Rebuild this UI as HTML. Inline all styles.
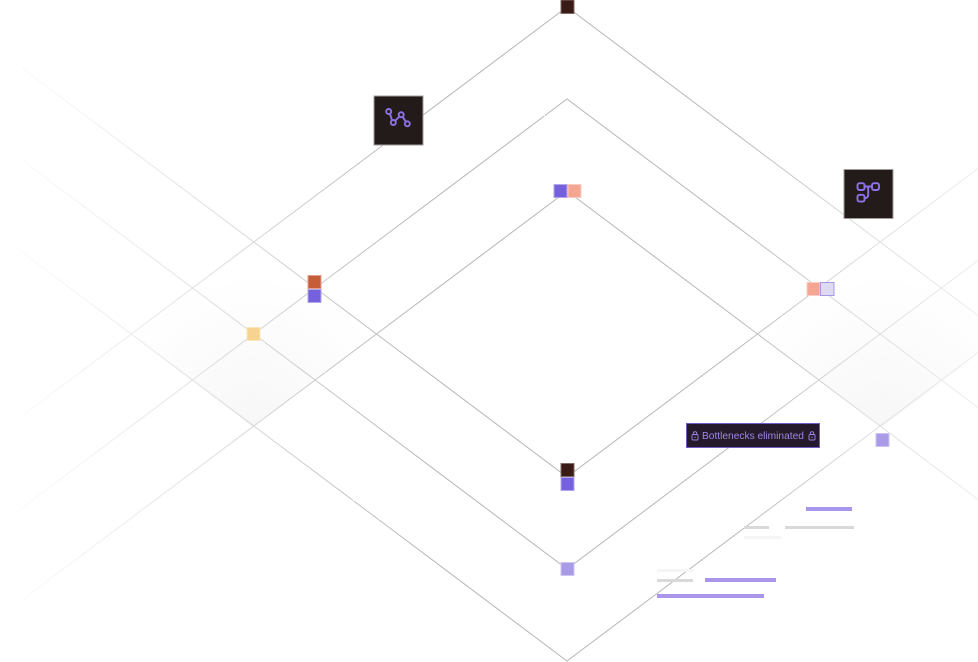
<!DOCTYPE html>
<html>
<head>
<meta charset="utf-8">
<style>
html,body{margin:0;padding:0;background:#fff;}
#c{position:relative;width:978px;height:662px;overflow:hidden;background:#fff;font-family:"Liberation Sans",sans-serif;}
#c svg{position:absolute;left:0;top:0;}
.b{position:absolute;}
#t{position:absolute;left:686px;top:423px;width:134px;height:25px;box-sizing:border-box;background:#241a2c;border:1px solid #6f5cc4;color:#9c86e8;font-size:10.2px;line-height:25px;white-space:nowrap;}
#t span{position:absolute;left:15px;top:0;}
#t svg{position:absolute;top:7px;}
</style>
</head>
<body>
<div id="c">
<svg width="978" height="662" viewBox="0 0 978 662">
<defs>
<linearGradient id="g" gradientUnits="userSpaceOnUse" x1="0" y1="0" x2="978" y2="0">
<stop offset="0" stop-color="#fff"/>
<stop offset=".025" stop-color="#fafafa"/>
<stop offset=".2" stop-color="#e2e2e2"/>
<stop offset=".34" stop-color="#c6c6c6"/>
<stop offset=".45" stop-color="#b4b4b4"/>
<stop offset=".75" stop-color="#b8b8b8"/>
<stop offset=".88" stop-color="#dcdcdc"/>
<stop offset="1" stop-color="#eeeeee"/>
</linearGradient>
<radialGradient id="s1" gradientUnits="userSpaceOnUse" cx="253" cy="425" r="150">
<stop offset="0" stop-color="#f7f7f7"/>
<stop offset=".5" stop-color="#fbfbfb"/>
<stop offset="1" stop-color="#fff"/>
</radialGradient>
<radialGradient id="s2" gradientUnits="userSpaceOnUse" cx="882" cy="425" r="150">
<stop offset="0" stop-color="#f7f7f7"/>
<stop offset=".5" stop-color="#fbfbfb"/>
<stop offset="1" stop-color="#fff"/>
</radialGradient>
</defs>
<polygon points="253,243 376,335 253,427 130,335" fill="url(#s1)"/>
<polygon points="882,243 1005,335 882,427 759,335" fill="url(#s2)"/>
<g fill="none" stroke="url(#g)" stroke-width="1">
<path d="M10 425 L567 7 L1000 332"/>
<path d="M10 517 L567 99 L1000 424"/>
<path d="M10 609 L567 191 L1000 516"/>
<path d="M10 59 L567 477 L1000 152"/>
<path d="M10 151 L567 569 L1000 244"/>
<path d="M10 243 L567 661 L1000 336"/>
</g>
<g fill="#fff">
<rect x="539" y="116" width="2" height="2"/>
<rect x="544" y="114" width="1" height="2"/>
<rect x="353" y="499" width="2" height="2"/>
<rect x="379" y="518" width="2" height="2"/>
</g>

<rect x="374" y="96" width="49" height="49" fill="#231b1a" stroke="#a09c9b" stroke-width="1"/>
<rect x="844" y="169.5" width="49" height="49" fill="#231b1a" stroke="#a09c9b" stroke-width="1"/>
<g fill="none" stroke="#8b72e6" stroke-width="1.9">
<circle cx="388.7" cy="111.5" r="2.5"/>
<circle cx="393.3" cy="122.5" r="2.5"/>
<circle cx="401.2" cy="114.7" r="2.5"/>
<circle cx="407.3" cy="123.8" r="2.5"/>
<path d="M390 113.8 L392 120.2 M395.2 120.8 L399.4 116.5 M402.6 116.8 L405.9 121.7"/>
<rect x="857.5" y="183.2" width="7" height="6.8" rx="2"/>
<rect x="872" y="183.2" width="7" height="6.8" rx="2"/>
<rect x="857.5" y="194.8" width="7" height="6.8" rx="2"/>
<path d="M864.5 186.5 H872 M868.2 186.5 V194.5 Q868.2 198.2 864.5 198.2"/>
</g>

<g stroke-width="1">
<rect x="561" y="0" width="13" height="13.5" fill="#3a1a14" stroke="#7d6a64"/>
<rect x="554" y="184.5" width="13" height="13" fill="#7560de" stroke="#b3a8ec"/>
<rect x="568" y="184.5" width="13" height="13" fill="#f5a692" stroke="#fbcdc1"/>
<rect x="807" y="282.5" width="13" height="13" fill="#f5a692" stroke="#fbcdc1"/>
<rect x="820.5" y="282.5" width="13.5" height="13" fill="#dddaf2" stroke="#a598ea"/>
<rect x="308" y="275.5" width="13" height="13" fill="#c65c38" stroke="#e0a28e"/>
<rect x="308" y="289.5" width="13" height="13" fill="#7560de" stroke="#b3a8ec"/>
<rect x="247" y="327.5" width="13" height="13" fill="#f6d48f" stroke="#fae6bd"/>
<rect x="561" y="463.5" width="13" height="13" fill="#3a1a14" stroke="#7d6a64"/>
<rect x="561" y="477.5" width="13" height="13" fill="#7560de" stroke="#b3a8ec"/>
<rect x="561" y="562.5" width="13" height="13" fill="#a99be8" stroke="#cdc5f2"/>
<rect x="876" y="433.5" width="13" height="13" fill="#a99be8" stroke="#cdc5f2"/>
</g>
</svg>

<div id="t">
<svg style="left:4px" width="8" height="10" viewBox="0 0 8 10"><g fill="none" stroke="#9c86e8" stroke-width=".9"><rect x="1" y="3.5" width="6" height="5.5" rx="1"/><path d="M2.3 3.5V2.2Q2.3 .7 4 .7T5.7 2.2V3.5"/><path d="M4 5.5V7"/></g></svg>
<span>Bottlenecks eliminated</span>
<svg style="left:121px" width="8" height="10" viewBox="0 0 8 10"><g fill="none" stroke="#9c86e8" stroke-width=".9"><rect x="1" y="3.5" width="6" height="5.5" rx="1"/><path d="M2.3 3.5V2.2Q2.3 .7 4 .7T5.7 2.2V3.5"/><path d="M4 5.5V7"/></g></svg>
</div>

<div class="b" style="left:806px;top:507px;width:46px;height:4px;background:#a896ec;"></div>
<div class="b" style="left:744px;top:526px;width:25px;height:3px;background:#d9d9d9;"></div>
<div class="b" style="left:785px;top:526px;width:69px;height:3px;background:#d9d9d9;"></div>
<div class="b" style="left:744px;top:536px;width:37px;height:3px;background:#f5f5f5;"></div>
<div class="b" style="left:657px;top:569px;width:36px;height:3px;background:#f5f5f5;"></div>
<div class="b" style="left:657px;top:579px;width:36px;height:3px;background:#d9d9d9;"></div>
<div class="b" style="left:705px;top:578px;width:71px;height:4px;background:#a896ec;"></div>
<div class="b" style="left:657px;top:594px;width:107px;height:4px;background:#a896ec;"></div>
</div>
</body>
</html>
